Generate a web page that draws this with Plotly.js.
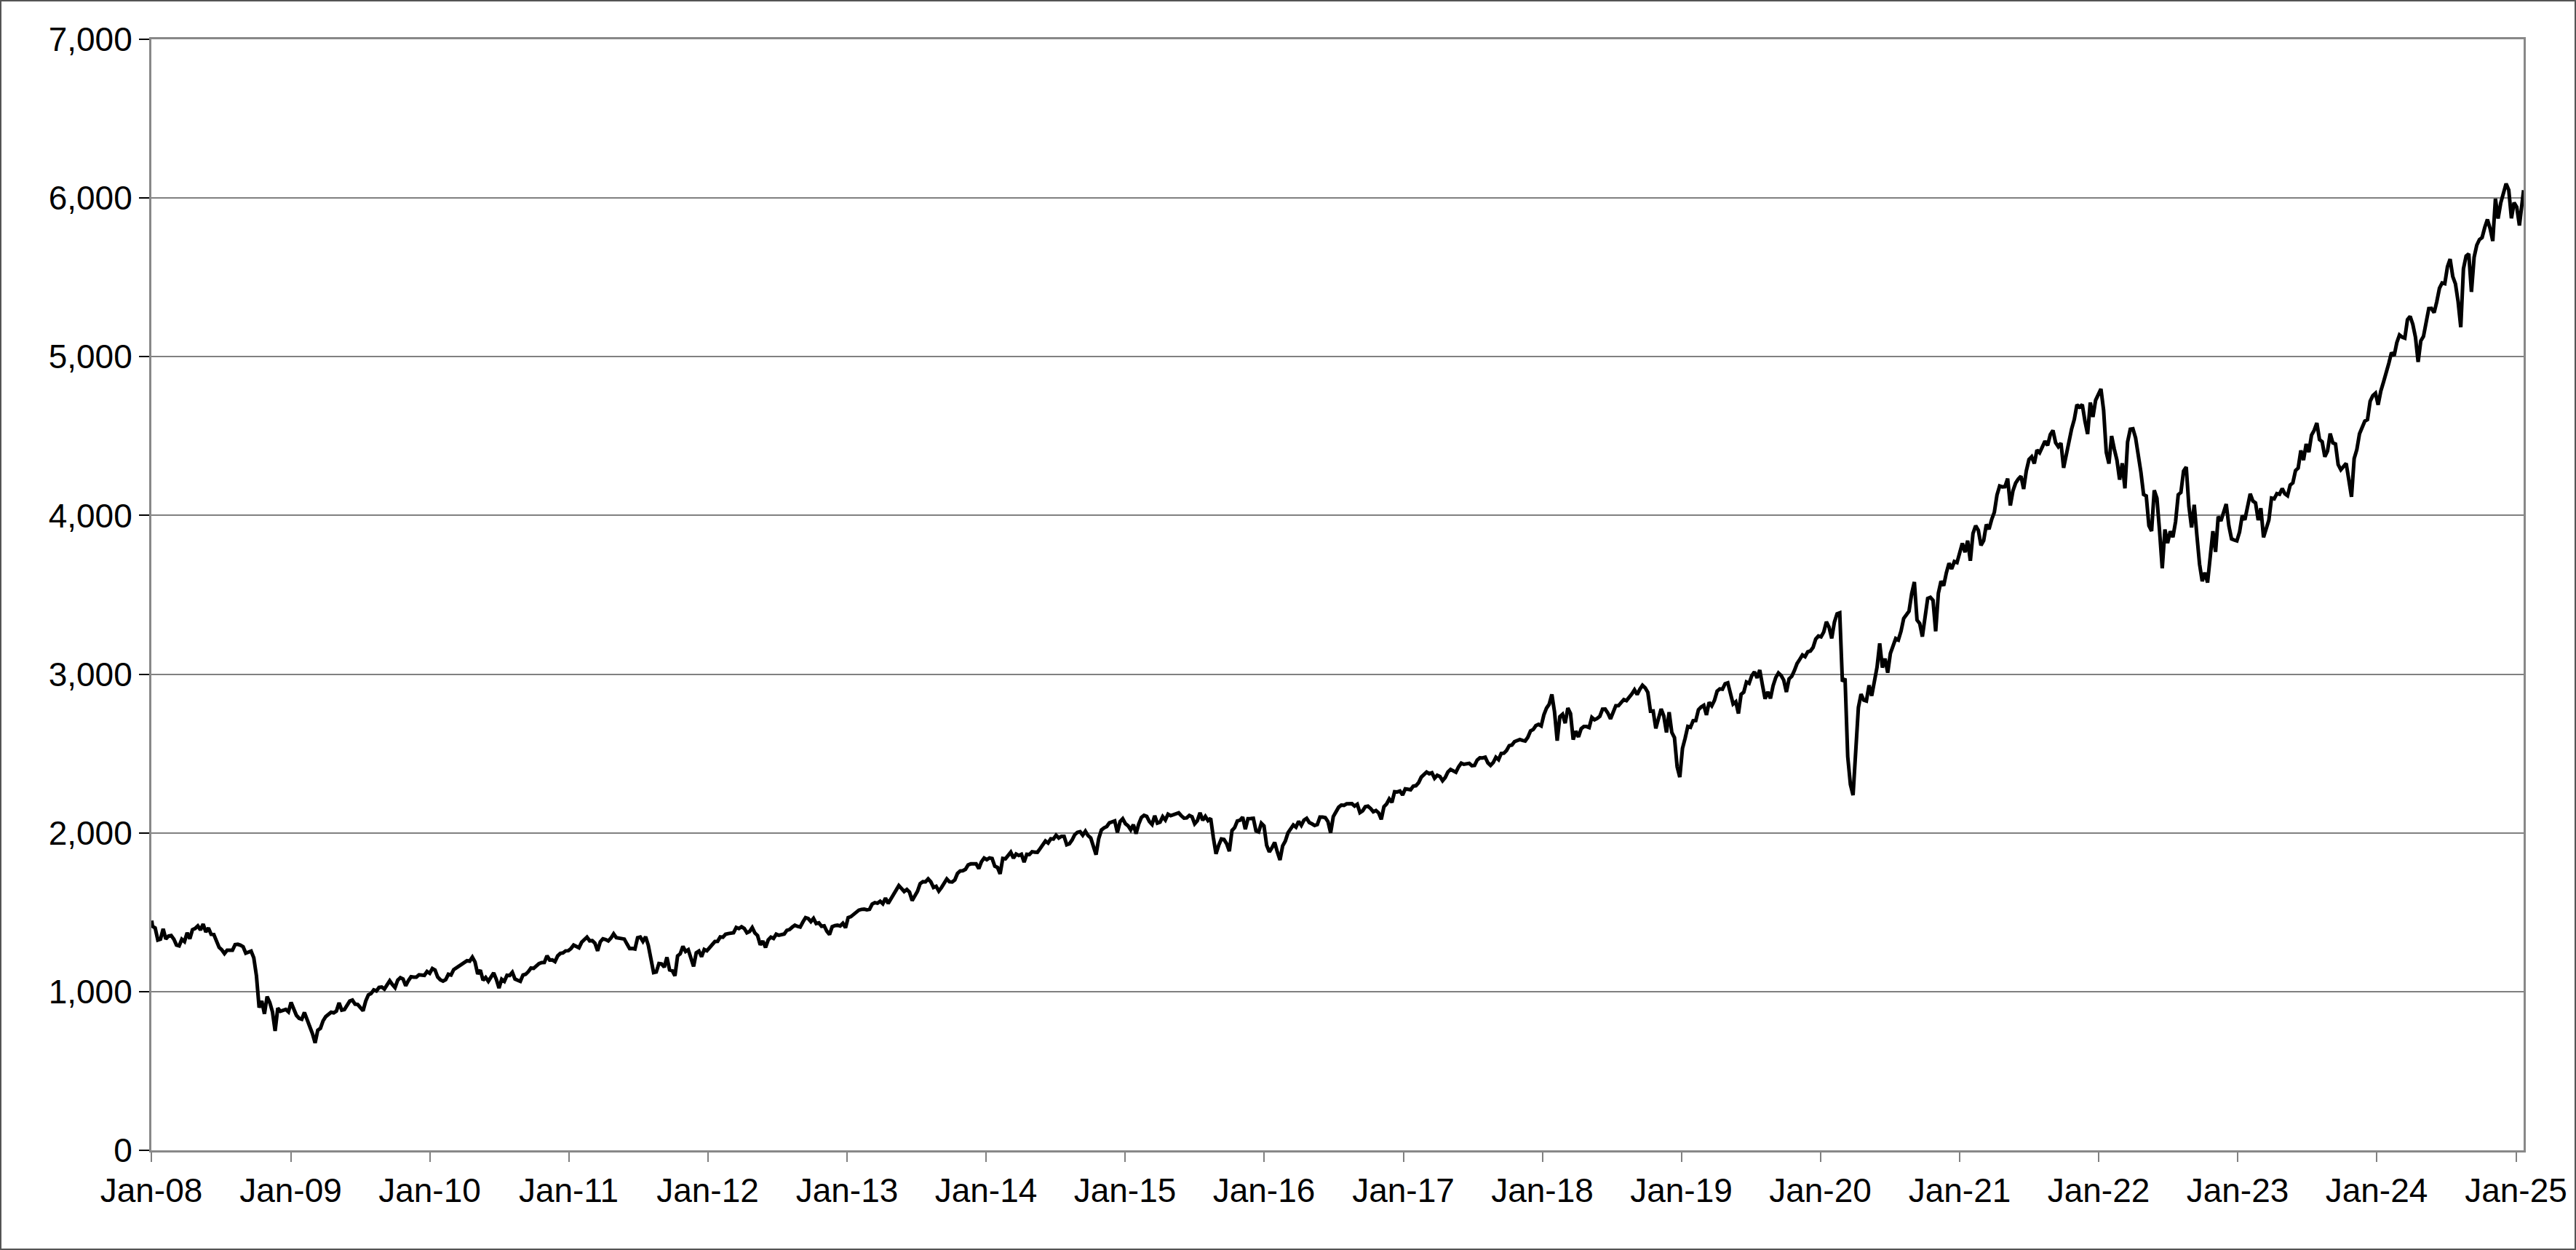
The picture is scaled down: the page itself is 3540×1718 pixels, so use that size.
<!DOCTYPE html>
<html><head><meta charset="utf-8">
<script src="https://cdn.plot.ly/plotly-3.0.1.min.js"></script>
<style>
html,body{margin:0;padding:0;background:#fff;}
#wrap{position:relative;width:3540px;height:1718px;}
#chart{width:3540px;height:1718px;}
#border{position:absolute;left:0;top:0;width:3540px;height:1718px;box-sizing:border-box;border:2px solid #555;pointer-events:none;}
</style>
</head><body>
<div id="wrap"><div id="chart"></div><div id="border"></div></div>
<script>
// S&P 500 level, weekly readings (Fridays), Jan 2008 - Jan 2025
const startDate = '2008-01-02';
const startValue = 1447.2;
const firstWeek = '2008-01-04';
const v2008 = [1411.6,1401.0,1325.2,1330.6, 1395.4,1331.3,1350.0,1353.1,1330.6, 1293.4,1288.1,1329.5,1315.2, 1370.4,1332.8,1390.3,1397.8, 1413.9,1388.3,1425.4,1375.9,1400.4, 1360.7,1360.0,1317.9,1278.4, 1262.9,1239.5,1260.7,1257.8, 1260.3,1296.3,1298.2,1292.2,1282.8, 1242.3,1251.7,1255.1,1213.3, 1099.2,899.2,940.6,860.0,968.8, 931.0,873.3,752.4,896.2, 876.1,879.7,887.9,872.8];
const v2009 = [931.8,890.4,850.1,832.0,825.9, 868.6,826.8,770.1,735.1, 676.5,756.6,768.5,815.9, 842.5,856.6,869.6,866.2, 877.5,929.2,882.9,887.0,919.1, 940.1,946.2,921.2,918.9, 896.4,879.1,940.4,979.3,987.5, 1010.5,1004.1,1026.1,1028.9, 1016.4,1042.7,1068.3,1044.4, 1025.2,1071.5,1087.7,1079.6,1036.2, 1069.3,1093.5,1091.4,1091.5, 1106.0,1106.4,1102.5,1126.5,1115.1];
const v2010 = [1145.0,1136.0,1091.8,1073.9, 1066.2,1075.5,1109.2,1104.5, 1138.7,1150.0,1159.9,1166.6, 1178.1,1194.4,1192.1,1217.3,1186.7, 1110.9,1135.7,1071.6,1089.4, 1064.9,1091.6,1117.5,1076.8, 1022.6,1078.0,1064.9,1102.7,1101.6, 1121.6,1079.3,1071.7,1064.6, 1104.5,1109.6,1125.6,1148.7, 1146.2,1165.2,1176.2,1183.1,1183.3, 1225.9,1199.2,1199.7,1189.4, 1224.7,1240.4,1243.9,1256.8,1257.6];
const v2011 = [1271.5,1293.2,1283.4,1276.3, 1310.9,1329.2,1343.0,1319.9, 1321.2,1304.3,1256.9,1313.8, 1332.4,1328.2,1319.7,1337.4,1363.6, 1340.2,1337.8,1333.3,1331.1, 1300.2,1271.0,1271.5,1268.5, 1339.7,1343.8,1316.1,1345.0,1292.3, 1199.4,1120.0,1123.5,1176.8, 1174.0,1154.2,1216.0,1136.4,1131.4, 1099.2,1224.6,1238.3,1285.1, 1253.2,1263.9,1215.7,1158.7, 1244.3,1255.2,1219.7,1265.3,1257.6];
const v2012 = [1277.8,1289.1,1315.4,1316.3, 1344.9,1342.6,1361.2,1365.7, 1370.0,1370.9,1404.2,1397.1,1408.5, 1398.1,1370.3,1378.5,1403.4, 1369.1,1353.4,1295.2,1317.8, 1278.0,1325.7,1342.8,1335.0,1362.2, 1354.7,1356.8,1362.7,1386.0, 1391.0,1405.9,1418.2,1411.1,1406.6, 1437.9,1465.8,1460.2,1440.7, 1460.9,1428.6,1433.2,1411.9, 1414.2,1379.9,1359.9,1409.2,1416.2, 1418.1,1413.6,1430.2,1402.4];
const v2013 = [1466.5,1472.1,1486.0,1503.0, 1513.2,1517.9,1519.8,1515.6, 1518.2,1551.2,1560.7,1556.9,1569.2, 1553.3,1588.9,1555.3,1582.2, 1614.4,1633.7,1667.5,1649.6,1630.7, 1643.4,1626.7,1573.1,1606.3, 1631.9,1680.2,1692.1,1691.7, 1709.7,1691.4,1655.8,1663.5,1633.0, 1655.2,1688.0,1709.9,1691.8, 1690.5,1703.2,1744.5,1759.8, 1761.6,1770.6,1798.2,1804.8,1805.8, 1805.1,1775.3,1818.3,1841.4];
const v2014 = [1831.4,1842.4,1838.7,1790.3,1782.6, 1741.9,1838.6,1836.3,1859.5, 1878.0,1841.1,1866.5,1857.6, 1865.1,1815.7,1864.9,1863.4, 1881.1,1878.5,1877.9,1900.5,1923.6, 1949.4,1936.2,1962.9,1961.0, 1985.4,1967.6,1978.2,1978.3, 1925.2,1931.6,1955.1,1988.4,2003.4, 2007.7,1985.5,2010.4,1982.9, 1967.9,1906.1,1862.5,1964.6,2018.1, 2031.9,2039.8,2063.5,2067.6, 2075.4,2002.3,2070.7,2088.8];
const v2015 = [2058.2,2044.8,2019.4,2051.8,1995.0, 2055.5,2097.0,2110.3,2104.5, 2071.3,2053.4,2108.1,2061.0, 2067.0,2102.1,2081.2,2117.7, 2108.3,2116.1,2122.7,2126.1,2107.4, 2092.8,2094.1,2110.0,2101.5, 2057.6,2076.6,2126.6,2079.7,2103.8, 2077.6,2091.5,1970.9,1867.6, 1921.2,1961.1,1958.0,1931.3, 1884.1,2014.9,2033.1,2075.2,2079.4, 2099.2,2023.0,2089.2,2090.1, 2091.7,2012.4,2005.6,2061.0,2043.9];
const v2016 = [1922.0,1880.3,1906.9,1940.2, 1880.1,1829.1,1917.8,1948.1, 2000.0,2022.2,2049.6,2035.9, 2072.8,2047.6,2080.7,2091.6,2065.3, 2057.1,2046.6,2052.3,2099.1, 2099.1,2096.1,2071.2,2000.5, 2103.0,2129.9,2161.7,2175.0,2173.6, 2182.9,2184.1,2183.9,2169.0, 2180.0,2127.8,2139.2,2164.7,2168.3, 2153.7,2133.0,2141.2,2126.4, 2085.2,2164.5,2181.9,2213.4, 2192.0,2259.5,2258.1,2263.8,2238.8];
const v2017 = [2277.0,2274.6,2271.3,2294.7, 2297.4,2316.1,2351.2,2367.3, 2383.1,2372.6,2378.3,2344.0,2362.7, 2355.5,2329.0,2348.7,2384.2, 2399.3,2390.9,2381.7,2415.8, 2439.1,2431.8,2433.2,2438.3,2423.4, 2425.2,2459.3,2472.5,2472.1, 2476.8,2441.3,2425.6,2443.1, 2476.6,2461.4,2500.2,2502.2,2519.4, 2549.3,2553.2,2575.2,2581.1, 2587.8,2582.3,2578.9,2602.4, 2642.2,2651.5,2675.8,2683.3,2673.6];
const v2018 = [2743.2,2786.2,2810.3,2872.9, 2762.1,2581.0,2732.2,2747.3, 2691.3,2786.6,2752.0,2588.3,2640.9, 2604.5,2656.3,2670.1,2669.9, 2663.4,2727.7,2713.0,2721.3, 2734.6,2779.0,2779.7,2754.9,2718.4, 2759.8,2801.3,2801.8,2818.8, 2840.4,2833.3,2850.1,2874.7,2901.5, 2871.7,2905.0,2929.7,2914.0, 2885.6,2767.1,2767.8,2658.7, 2723.1,2781.0,2736.3,2632.6,2760.2, 2633.1,2600.0,2416.6,2351.1];
const v2019 = [2531.9,2596.3,2670.7,2664.8, 2706.5,2707.9,2775.6,2792.7, 2803.7,2743.1,2822.5,2800.7,2834.4, 2892.7,2907.4,2905.0,2939.9, 2945.6,2881.4,2811.9,2826.1,2752.1, 2873.3,2887.0,2950.5,2941.8, 2990.4,3013.8,2976.6,3025.9, 2932.1,2844.7,2888.7,2847.1,2926.5, 2978.7,3007.4,2992.1,2961.8, 2887.6,2970.3,2986.2,3022.6, 3066.9,3093.1,3120.5,3110.3,3141.0, 3145.9,3168.8,3221.2,3240.0];
const v2020 = [3234.9,3265.4,3329.6,3295.5,3225.5, 3327.7,3380.2,3386.2,2954.2, 2972.4,2480.6,2304.9,2237.4, 2488.7,2789.8,2874.6,2836.7, 2830.7,2929.8,2863.7,2955.5,3044.3, 3193.9,3041.3,3097.7,3009.1, 3130.0,3185.0,3224.7,3215.6,3271.1, 3351.3,3372.9,3397.2,3508.0, 3580.8,3341.0,3319.5,3236.9, 3348.4,3477.1,3483.8,3465.4,3270.0, 3509.4,3585.2,3557.5,3638.4, 3699.1,3663.5,3709.4,3703.1,3756.1];
const v2021 = [3824.7,3768.3,3841.5,3714.2, 3886.8,3934.8,3906.7,3811.2, 3841.9,3943.3,3913.1,3974.5, 4019.9,4128.8,4185.5,4180.2,4181.2, 4232.6,4063.0,4155.9,4204.1, 4229.9,4247.4,4166.5,4280.7, 4352.3,4369.6,4327.2,4411.8,4395.3, 4436.5,4468.0,4441.7,4509.4, 4535.4,4458.6,4433.0,4455.5, 4300.5,4391.3,4471.4,4544.9,4605.4, 4697.5,4682.9,4698.0,4594.6, 4513.0,4712.0,4620.6,4725.8,4766.2];
const v2022 = [4796.6,4662.9,4397.9,4326.5, 4500.5,4418.6,4348.9,4225.5, 4328.9,4170.7,4463.1,4543.1, 4545.9,4488.3,4392.6,4271.8,4131.9, 4123.3,3935.2,3901.4,4158.2, 4108.5,3900.9,3666.8,3911.7, 3825.3,3899.4,3863.2,3961.6,4130.3, 4145.2,4280.2,4305.2,4057.7, 3924.3,4067.4,3873.3,3693.2,3585.6, 3639.7,3577.0,3752.8,3901.1, 3770.6,3992.9,3965.3,4026.1, 4071.7,3934.4,3852.4,3844.8,3839.5];
const v2023 = [3895.1,3999.1,3972.6,4070.6, 4136.5,4090.5,4079.1,3970.0, 4045.6,3861.6,3916.6,3971.0,4109.3, 4105.0,4137.6,4133.5,4169.5, 4136.3,4124.1,4192.0,4205.5, 4282.4,4298.9,4409.6,4348.3,4450.4, 4399.0,4505.4,4536.3,4582.2, 4478.0,4464.1,4369.7,4405.7, 4515.8,4457.5,4450.3,4320.1,4288.1, 4308.5,4327.8,4224.2,4117.4, 4358.3,4415.2,4514.0,4559.3, 4594.6,4604.4,4719.2,4754.6,4769.8];
const v2024 = [4697.2,4783.8,4839.8,4891.0, 4958.6,5026.6,5005.6,5088.8, 5137.1,5123.7,5117.1,5234.2,5254.4, 5204.3,5123.4,4967.2,5100.0, 5127.8,5222.7,5303.3,5304.7,5277.5, 5347.0,5431.6,5464.6,5460.5, 5567.2,5615.4,5505.0,5459.1, 5346.6,5186.3,5554.3,5634.6,5648.4, 5408.4,5626.0,5702.6,5738.2, 5751.1,5815.0,5864.7,5808.1, 5728.8,5995.5,5870.6,5969.3,6032.4, 6090.3,6051.1,5872.2,5970.8];
const v2025 = [5942.5,5827.0,5996.7];
const endDate = '2025-01-21';
const endValue = 6049.2;

const yTicks = [0,1000,2000,3000,4000,5000,6000,7000];
const xStart = '2008-01-01';
const xEnd = '2025-01-21';

const weekly = [].concat(v2008,v2009,v2010,v2011,v2012,v2013,v2014,v2015,v2016,v2017,v2018,v2019,v2020,v2021,v2022,v2023,v2024,v2025);
const base = new Date(firstWeek + 'T00:00:00Z').getTime();
const xs = [startDate], ys = [startValue];
weekly.forEach((v, i) => {
  const d = new Date(base + i * 7 * 86400000);
  xs.push(d.toISOString().slice(0, 10));
  ys.push(v);
});
xs.push(endDate); ys.push(endValue);

const font = {family: 'Liberation Sans, Arial, sans-serif', size: 46, color: '#000'};
Plotly.newPlot('chart', [{
  type: 'scatter', mode: 'lines', x: xs, y: ys,
  line: {color: '#000', width: 5}, hoverinfo: 'skip'
}], {
  width: 3540, height: 1718,
  margin: {l: 208, r: 72, t: 54, b: 137, pad: 0},
  paper_bgcolor: '#fff', plot_bgcolor: '#fff',
  showlegend: false,
  font: font,
  xaxis: {
    type: 'date', range: [xStart, xEnd],
    tick0: '2008-01-01', dtick: 'M12', tickformat: '%b-%y',
    ticks: 'outside', ticklen: 13, tickwidth: 2, tickcolor: '#808080',
    showgrid: false, zeroline: false,
    showline: true, linecolor: '#888', linewidth: 3, mirror: true,
    tickfont: font
  },
  yaxis: {
    range: [0, 7000], tickvals: yTicks, tickformat: ',d',
    ticks: 'outside', ticklen: 14, tickwidth: 2, tickcolor: '#000',
    showgrid: true, gridcolor: '#808080', gridwidth: 2,
    zeroline: false,
    showline: true, linecolor: '#888', linewidth: 3, mirror: true,
    tickfont: font
  }
}, {staticPlot: true, displayModeBar: false});
</script>
</body></html>
